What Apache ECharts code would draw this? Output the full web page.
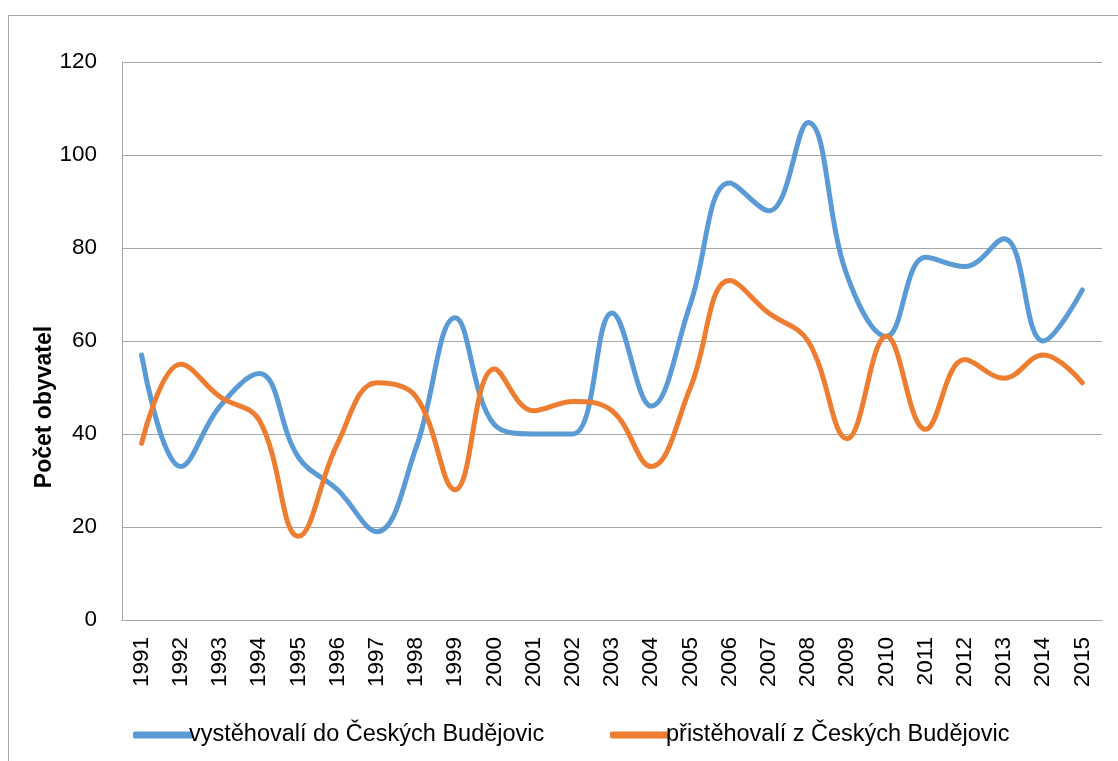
<!DOCTYPE html>
<html>
<head>
<meta charset="utf-8">
<script src="https://cdn.jsdelivr.net/npm/echarts@6/dist/echarts.min.js"></script>
<style>
html,body{margin:0;padding:0;background:#fff;}
#chart{width:1118px;height:761px;}
</style>
</head>
<body>
<div id="chart"></div>
<script>
var years = ['1991','1992','1993','1994','1995','1996','1997','1998','1999','2000','2001','2002','2003','2004','2005','2006','2007','2008','2009','2010','2011','2012','2013','2014','2015'];
var seriesNames = ['vystěhovalí do Českých Budějovic', 'přistěhovalí z Českých Budějovic'];
var vystehovali = [57,33,46,53,35,28,19,37,65,42,40,40,66,46,68,94,88,107,74,61,78,76,82,60,71];
var pristehovali = [38,55,48,43,18,38,51,48,28,54,45,47,45,33,50,73,66,60,39,61,41,56,52,57,51];
var yTitle = 'Počet obyvatel';

var FONT = '"Liberation Sans", Arial, sans-serif';
var chart = echarts.init(document.getElementById('chart'), null, {renderer:'canvas'});
chart.setOption({
  animation: false,
  backgroundColor: '#ffffff',
  graphic: [
    {type:'rect', shape:{x:8.5, y:15.5, width:1200, height:800}, style:{fill:'none', stroke:'#a6a6a6', lineWidth:1}, silent:true},
    {type:'text', x:45, y:407, rotation:Math.PI/2, style:{text:yTitle, font:'bold 23px ' + FONT, fill:'#000', textAlign:'center', textVerticalAlign:'middle'}}
  ],
  grid: {left:122, top:62, right:16, bottom:141, containLabel:false},
  legend: [
    {data:[seriesNames[0]], left:128, top:718, itemWidth:60, itemHeight:7, icon:'roundRect', itemGap:10,
     textStyle:{fontFamily:FONT, fontSize:23.5, color:'#000', padding:[0,0,0,-9]}},
    {data:[seriesNames[1]], left:605, top:718, itemWidth:60, itemHeight:7, icon:'roundRect', itemGap:10,
     textStyle:{fontFamily:FONT, fontSize:23.5, color:'#000', padding:[0,0,0,-9]}}
  ],
  xAxis: {
    type:'category', data:years, boundaryGap:true,
    axisLine:{show:true, lineStyle:{color:'#a6a6a6', width:1}},
    axisTick:{show:false},
    axisLabel:{rotate:90, fontFamily:FONT, fontSize:22.5, color:'#000', margin:17}
  },
  yAxis: {
    type:'value', min:0, max:120, interval:20,
    axisLine:{show:true, lineStyle:{color:'#a6a6a6', width:1}},
    axisTick:{show:false},
    splitLine:{show:true, lineStyle:{color:'#a6a6a6', width:1}},
    axisLabel:{fontFamily:FONT, fontSize:22.5, color:'#000', margin:25}
  },
  series: [
    {name:seriesNames[0], type:'line', data:vystehovali, smooth:0.4, symbol:'none',
     lineStyle:{color:'#5b9bd5', width:5, cap:'round'}, itemStyle:{color:'#5b9bd5'}},
    {name:seriesNames[1], type:'line', data:pristehovali, smooth:0.4, symbol:'none',
     lineStyle:{color:'#ed7d31', width:5, cap:'round'}, itemStyle:{color:'#ed7d31'}}
  ]
});
</script>
</body>
</html>
